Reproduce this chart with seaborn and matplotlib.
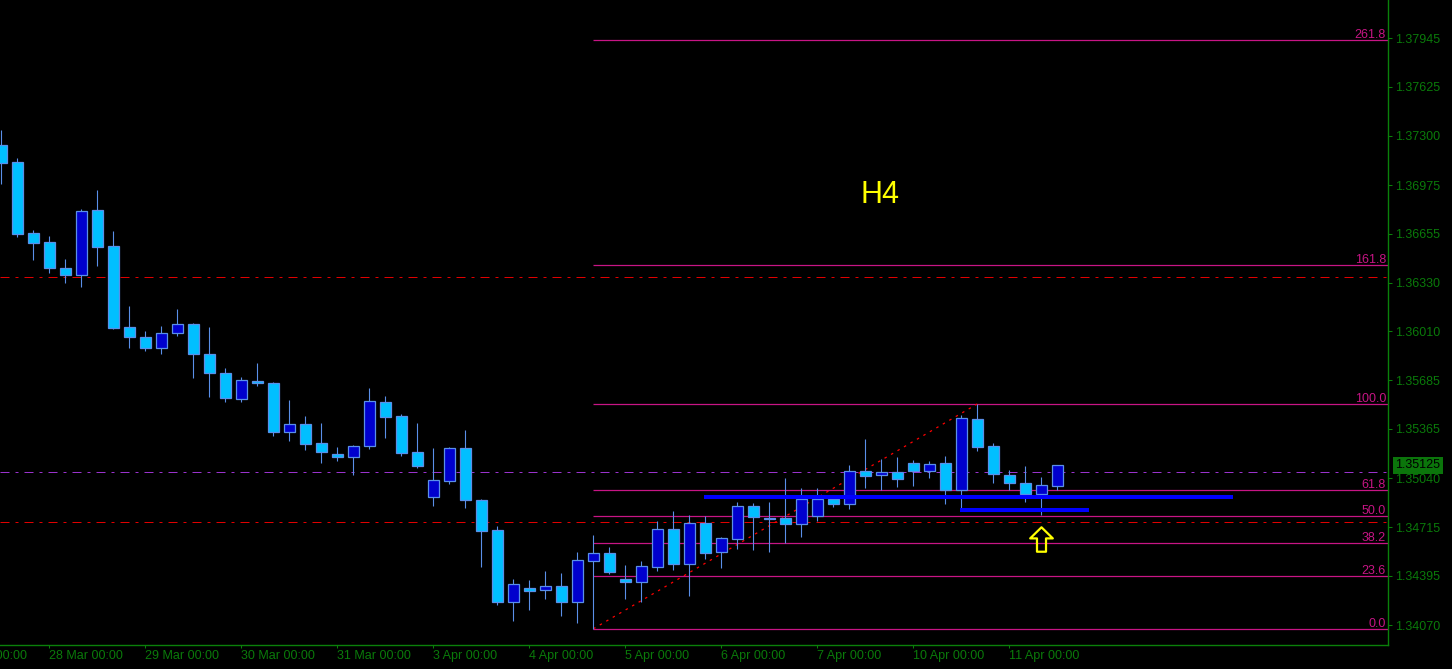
import numpy as np
import pandas as pd
import matplotlib
matplotlib.use('Agg')
import matplotlib.pyplot as plt
import seaborn as sns
from matplotlib.path import Path
from matplotlib import font_manager

# H4 candles, 27 Mar 12:00 .. 11 Apr 12:00
opens = [1.37240, 1.37128, 1.36657, 1.36598, 1.36428, 1.36384, 1.36811, 1.36573, 1.36038, 1.35972,
         1.35902, 1.35997, 1.36058, 1.35860, 1.35734, 1.35565, 1.35682, 1.35666, 1.35343, 1.35396,
         1.35270, 1.35199, 1.35178, 1.35250, 1.35541, 1.35450, 1.35211, 1.34917, 1.35023, 1.35239,
         1.34896, 1.34698, 1.34224, 1.34314, 1.34303, 1.34328, 1.34224, 1.34495, 1.34546, 1.34374,
         1.34356, 1.34455, 1.34702, 1.34475, 1.34742, 1.34554, 1.34640, 1.34854, 1.34780, 1.34775,
         1.34739, 1.34792, 1.34902, 1.34867, 1.35087, 1.35059, 1.35081, 1.35140, 1.35089, 1.35140,
         1.34962, 1.35431, 1.35252, 1.35061, 1.35008, 1.34937, 1.34990]
highs = [1.37339, 1.37156, 1.36679, 1.36639, 1.36487, 1.36818, 1.36943, 1.36672, 1.36177, 1.36012,
         1.36045, 1.36157, 1.36067, 1.36040, 1.35767, 1.35706, 1.35802, 1.35677, 1.35556, 1.35450,
         1.35404, 1.35246, 1.35259, 1.35635, 1.35583, 1.35464, 1.35404, 1.35239, 1.35246, 1.35358,
         1.34902, 1.34724, 1.34374, 1.34367, 1.34427, 1.34414, 1.34552, 1.34664, 1.34585, 1.34466,
         1.34493, 1.34755, 1.34823, 1.34797, 1.34790, 1.34651, 1.34880, 1.34874, 1.34880, 1.35041,
         1.34975, 1.34973, 1.34922, 1.35127, 1.35299, 1.35166, 1.35180, 1.35160, 1.35153, 1.35186,
         1.35457, 1.35530, 1.35272, 1.35094, 1.35120, 1.35046, 1.35130]
lows = [1.36983, 1.36635, 1.36481, 1.36397, 1.36331, 1.36304, 1.36441, 1.36025, 1.35902, 1.35880,
        1.35863, 1.35981, 1.35703, 1.35578, 1.35545, 1.35545, 1.35651, 1.35320, 1.35287, 1.35228,
        1.35142, 1.35155, 1.35063, 1.35234, 1.35307, 1.35188, 1.35109, 1.34858, 1.35003, 1.34845,
        1.34455, 1.34204, 1.34098, 1.34171, 1.34244, 1.34131, 1.34085, 1.34045, 1.34409, 1.34244,
        1.34224, 1.34427, 1.34435, 1.34262, 1.34508, 1.34449, 1.34572, 1.34565, 1.34554, 1.34614,
        1.34653, 1.34759, 1.34847, 1.34836, 1.34977, 1.34962, 1.34983, 1.34988, 1.35041, 1.34871,
        1.34836, 1.35219, 1.35010, 1.34962, 1.34880, 1.34797, 1.34962]
closes = [1.37123, 1.36654, 1.36595, 1.36430, 1.36384, 1.36804, 1.36569, 1.36034, 1.35974, 1.35902,
          1.35997, 1.36058, 1.35858, 1.35732, 1.35571, 1.35688, 1.35666, 1.35343, 1.35396, 1.35267,
          1.35211, 1.35178, 1.35250, 1.35548, 1.35446, 1.35208, 1.35122, 1.35028, 1.35239, 1.34894,
          1.34693, 1.34224, 1.34341, 1.34297, 1.34328, 1.34224, 1.34499, 1.34546, 1.34422, 1.34356,
          1.34458, 1.34702, 1.34475, 1.34742, 1.34548, 1.34643, 1.34854, 1.34783, 1.34773, 1.34739,
          1.34900, 1.34902, 1.34867, 1.35087, 1.35056, 1.35081, 1.35036, 1.35089, 1.35133, 1.34962,
          1.35435, 1.35248, 1.35069, 1.35010, 1.34937, 1.34995, 1.35125]

# axis labels
date_pos = [3, 9, 15, 21, 27, 33, 39, 45, 51, 57, 63]
date_labels = ['28 Mar 00:00', '29 Mar 00:00', '30 Mar 00:00', '31 Mar 00:00', '3 Apr 00:00',
               '4 Apr 00:00', '5 Apr 00:00', '6 Apr 00:00', '7 Apr 00:00', '10 Apr 00:00', '11 Apr 00:00']
price_ticks = ['1.37945', '1.37625', '1.37300', '1.36975', '1.36655', '1.36330', '1.36010',
               '1.35685', '1.35365', '1.35040', '1.34715', '1.34395', '1.34070']

# fibo retracement (low candle -> high candle)
fib_ratios = [0.0, 23.6, 38.2, 50.0, 61.8, 100.0, 161.8, 261.8]
fib_low, fib_high = 1.34045, 1.35530
fib_start, fib_end = 37, 61

# other objects on the chart
dashdot_red = [1.36370, 1.34752]
dashdot_purple = [1.35083]
blue_levels = [1.34915, 1.34832]
blue_start = [43.9, 59.9]
blue_end = [77.0, 68.0]
last_price = 1.35125

sns.set_style('dark', {'axes.facecolor': 'black', 'figure.facecolor': 'black'})
plt.rcParams['font.family'] = ['Liberation Sans', 'DejaVu Sans']

names = {f.name for f in font_manager.fontManager.ttflist}
narrow = 'Liberation Sans Narrow' if 'Liberation Sans Narrow' in names else 'Liberation Sans'

green = '#0a800a'
txt_green = '#0a7a0a'
fib_col = '#C71585'
edge = '#5A8FE8'

df = pd.DataFrame({'o': opens, 'h': highs, 'l': lows, 'c': closes})
df['x'] = np.arange(len(df))
df['bull'] = df['c'] > df['o']

fig = plt.figure(figsize=(14.52, 6.69), dpi=100)
ax = fig.add_axes([0, 24 / 669, 1388 / 1452, 645 / 669])
xmax = 86.67
ax.set_xlim(-0.081, xmax)
ax.set_ylim(1.33938, 1.38198)

# horizontal dash-dot lines
for y in dashdot_red:
    ax.axhline(y, color='#E00000', lw=0.72, ls=(0, (9, 6, 3, 6)), zorder=1)
for y in dashdot_purple:
    ax.axhline(y, color='#9932CC', lw=0.72, ls=(0, (9, 6, 3, 6)), zorder=1)

# fibo levels
fib_prices = [fib_low + r / 100 * (fib_high - fib_low) for r in fib_ratios]
ax.hlines(fib_prices, fib_start, xmax, color=fib_col, lw=0.9, zorder=1)
for r, p in zip(fib_ratios, fib_prices):
    ax.annotate(f'{r:.1f}', xy=(1, p), xycoords=('axes fraction', 'data'),
                xytext=(-2, 2), textcoords='offset pixels', ha='right', va='baseline',
                color=fib_col, fontsize=9, annotation_clip=False)
sns.lineplot(x=[fib_start, fib_end], y=[fib_low, fib_high], ax=ax, color='red',
             lw=0.9, linestyle=(0, (2, 4)), zorder=2)

# candles
ax.vlines(df['x'], df['l'], df['h'], color=edge, lw=0.8, zorder=3)
ax.bar(df['x'], (df['c'] - df['o']).abs(), bottom=np.minimum(df['o'], df['c']), width=0.69,
       color=np.where(df['bull'], '#0000CD', '#00BFFF'), edgecolor=edge, lw=0.9, zorder=4)

# hand drawn blue levels
ax.hlines(blue_levels, blue_start, blue_end, color='#0000FF', lw=2.9, zorder=5)

# yellow up arrow
arrow = Path([(0, 12.2), (-11.3, 1.1), (-4.5, 1.1), (-4.5, -12.2), (4.5, -12.2),
              (4.5, 1.1), (11.3, 1.1), (0, 12.2)],
             [Path.MOVETO] + [Path.LINETO] * 6 + [Path.CLOSEPOLY])
ax.plot([65.0], [1.34639], marker=arrow, ms=17.6, mfc='none', mec='yellow', mew=1.6, zorder=6)

ax.text(54.9, 1.36910, 'H4', color='yellow', fontsize=22, ha='center', va='center')

# axes styling
for s in ['left', 'top']:
    ax.spines[s].set_visible(False)
for s in ['right', 'bottom']:
    ax.spines[s].set_visible(True)
    ax.spines[s].set_color(green)
    ax.spines[s].set_linewidth(1.0)

ax.yaxis.tick_right()
ax.set_yticks([float(t) for t in price_ticks])
ax.set_yticklabels(price_ticks)
ax.set_xticks(date_pos)
ax.set_xticklabels(date_labels, ha='left', family=narrow)
ax.tick_params(axis='y', colors=green, labelcolor=txt_green, length=2.9, width=0.75,
               pad=2.2, labelsize=9, direction='out', right=True, left=False)
ax.tick_params(axis='x', colors=green, labelcolor=txt_green, length=2.2, width=0.75,
               pad=1.5, labelsize=9, direction='out', bottom=True)
ax.annotate('27 Mar 00:00', xy=(-3, 0), xycoords=('data', 'axes fraction'),
            xytext=(0, -3.7), textcoords='offset points', ha='left', va='top',
            color=txt_green, fontsize=9, family=narrow, annotation_clip=False)

# current price tag
ax.annotate(f'{last_price:.5f}', xy=(1, last_price), xycoords=('axes fraction', 'data'),
            xytext=(7, 0), textcoords='offset pixels', ha='left', va='center',
            color='black', fontsize=9, annotation_clip=False,
            bbox=dict(boxstyle='square,pad=0.2', fc='#0b750b', ec='none'))

ax.grid(False)
fig.savefig('out.png', dpi=100, facecolor='black')
